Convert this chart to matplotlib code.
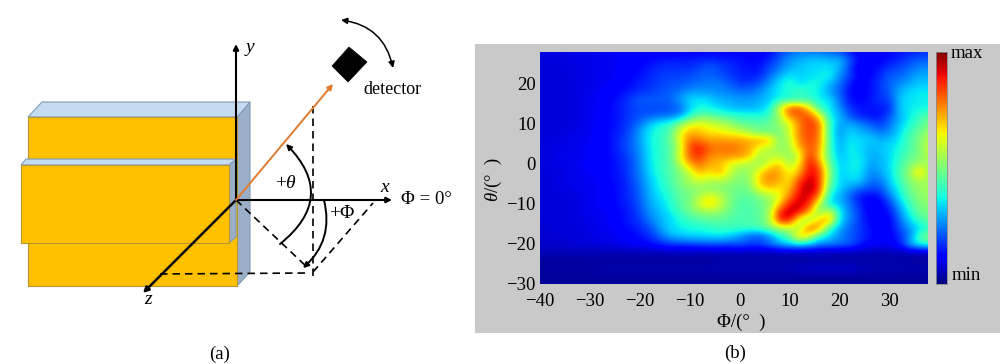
import matplotlib

matplotlib.use("Agg")

import matplotlib.pyplot as plt
import numpy as np
from matplotlib.patches import FancyArrowPatch, Polygon, Rectangle

plt.rcParams["font.family"] = ["Liberation Serif", "DejaVu Serif"]
plt.rcParams["mathtext.fontset"] = "custom"
plt.rcParams["mathtext.rm"] = "Liberation Serif"
plt.rcParams["mathtext.it"] = "Liberation Serif:italic"

phi = list(range(-40, 40, 2))
theta = list(range(28, -32, -2))
x_ticks = [-40, -30, -20, -10, 0, 10, 20, 30]
y_ticks = [-30, -20, -10, 0, 10, 20]

# intensity in percent of the colour bar, top row (theta = 28) first
intensity = [
    [9, 9, 9, 9, 9, 9, 10, 10, 11, 11, 11, 11, 11, 11, 11, 12, 12, 12, 12, 12, 12, 12, 11, 13, 18, 22, 25, 24, 24, 22, 20, 14, 11, 11, 11, 13, 14, 15, 16, 17],
    [8, 8, 8, 9, 9, 9, 10, 10, 11, 12, 12, 13, 14, 15, 15, 15, 16, 17, 16, 15, 14, 13, 13, 16, 22, 28, 30, 32, 33, 30, 32, 22, 12, 12, 12, 14, 16, 20, 22, 22],
    [8, 8, 8, 9, 9, 9, 10, 10, 11, 12, 13, 15, 17, 17, 17, 17, 19, 22, 19, 17, 15, 14, 14, 20, 24, 30, 32, 34, 34, 36, 30, 18, 10, 12, 14, 18, 20, 22, 26, 26],
    [8, 8, 8, 8, 9, 9, 10, 10, 11, 12, 14, 16, 18, 19, 19, 20, 22, 22, 21, 18, 16, 15, 16, 23, 30, 36, 33, 34, 36, 38, 26, 20, 10, 12, 16, 22, 22, 26, 30, 30],
    [8, 8, 8, 8, 9, 9, 10, 11, 12, 13, 16, 17, 19, 20, 21, 22, 24, 25, 25, 22, 18, 18, 22, 28, 36, 40, 34, 38, 38, 30, 24, 14, 11, 14, 18, 22, 26, 30, 32, 32],
    [8, 8, 8, 8, 9, 9, 11, 12, 13, 15, 17, 18, 20, 22, 24, 28, 28, 27, 26, 25, 24, 24, 26, 32, 36, 38, 44, 38, 36, 28, 22, 13, 11, 13, 17, 22, 30, 34, 36, 36],
    [8, 8, 8, 8, 9, 10, 11, 12, 15, 18, 22, 22, 22, 22, 28, 34, 36, 34, 30, 30, 28, 28, 30, 32, 38, 40, 40, 42, 36, 36, 24, 14, 12, 14, 18, 18, 32, 35, 36, 36],
    [8, 8, 8, 8, 9, 10, 11, 13, 15, 18, 20, 19, 19, 20, 22, 32, 38, 36, 34, 31, 30, 30, 32, 36, 62, 84, 84, 66, 40, 36, 26, 18, 14, 14, 14, 16, 32, 36, 36, 38],
    [8, 8, 8, 8, 9, 10, 11, 13, 15, 18, 20, 22, 23, 24, 27, 40, 48, 47, 44, 42, 40, 40, 38, 42, 54, 78, 80, 84, 66, 36, 32, 20, 16, 14, 14, 20, 30, 36, 42, 46],
    [8, 8, 8, 8, 9, 10, 11, 13, 15, 19, 24, 32, 38, 40, 52, 62, 64, 62, 58, 55, 48, 46, 46, 48, 54, 60, 78, 86, 80, 42, 28, 30, 26, 22, 18, 24, 32, 38, 44, 50],
    [8, 8, 8, 9, 9, 10, 12, 13, 16, 20, 28, 36, 40, 44, 62, 72, 70, 66, 65, 62, 60, 54, 48, 48, 48, 62, 78, 84, 80, 40, 26, 34, 30, 28, 24, 26, 34, 42, 48, 54],
    [8, 8, 9, 9, 10, 11, 12, 13, 17, 21, 28, 37, 40, 46, 62, 80, 78, 74, 75, 74, 75, 72, 74, 72, 50, 56, 78, 84, 78, 42, 28, 36, 34, 34, 30, 32, 36, 44, 50, 58],
    [8, 9, 9, 9, 10, 11, 12, 13, 17, 21, 27, 36, 40, 44, 58, 84, 90, 80, 78, 80, 76, 74, 62, 58, 52, 56, 72, 82, 76, 42, 28, 38, 34, 30, 32, 34, 38, 44, 50, 60],
    [8, 9, 9, 10, 10, 11, 11, 13, 16, 20, 26, 36, 40, 44, 62, 82, 86, 76, 76, 76, 76, 70, 56, 56, 58, 50, 62, 88, 70, 44, 30, 36, 36, 30, 30, 34, 40, 46, 50, 58],
    [8, 9, 9, 9, 10, 12, 11, 13, 15, 19, 26, 35, 40, 44, 56, 74, 80, 72, 70, 62, 58, 56, 52, 64, 70, 56, 66, 92, 78, 48, 32, 36, 38, 28, 30, 34, 42, 50, 54, 54],
    [8, 8, 9, 9, 10, 11, 11, 13, 15, 19, 25, 34, 40, 44, 50, 60, 72, 66, 74, 60, 52, 54, 66, 76, 74, 62, 72, 92, 86, 52, 32, 36, 36, 26, 28, 34, 44, 52, 72, 52],
    [8, 8, 9, 9, 10, 10, 11, 13, 14, 18, 24, 32, 38, 44, 50, 56, 62, 58, 58, 54, 50, 52, 70, 78, 72, 66, 84, 95, 86, 50, 32, 34, 34, 24, 24, 32, 42, 52, 56, 54],
    [8, 8, 9, 9, 10, 10, 11, 12, 14, 17, 23, 31, 37, 42, 48, 52, 52, 50, 50, 50, 48, 50, 66, 70, 66, 70, 90, 96, 88, 42, 34, 28, 24, 20, 20, 30, 38, 48, 54, 54],
    [8, 8, 8, 8, 9, 10, 11, 12, 14, 17, 22, 30, 35, 40, 46, 48, 56, 64, 58, 50, 46, 46, 50, 56, 62, 78, 92, 92, 78, 36, 30, 22, 14, 12, 14, 24, 36, 46, 52, 54],
    [8, 8, 8, 8, 9, 10, 11, 12, 14, 16, 21, 29, 33, 38, 46, 50, 62, 70, 60, 50, 44, 44, 48, 52, 68, 90, 94, 88, 56, 34, 32, 24, 16, 11, 11, 18, 30, 42, 50, 52],
    [8, 8, 8, 8, 9, 10, 10, 11, 13, 15, 20, 27, 31, 36, 42, 48, 52, 54, 52, 48, 44, 44, 46, 54, 88, 96, 90, 72, 46, 66, 36, 26, 18, 11, 10, 14, 26, 38, 48, 50],
    [8, 8, 8, 8, 9, 9, 10, 11, 13, 15, 18, 24, 30, 33, 38, 42, 44, 46, 46, 44, 44, 44, 46, 54, 90, 90, 58, 50, 72, 76, 34, 26, 18, 12, 10, 12, 22, 34, 42, 48],
    [7, 8, 8, 8, 8, 9, 10, 10, 12, 14, 16, 20, 28, 34, 36, 38, 38, 40, 42, 42, 42, 42, 44, 50, 56, 58, 54, 84, 76, 40, 30, 22, 18, 14, 11, 11, 20, 28, 34, 40],
    [7, 7, 8, 8, 8, 9, 9, 10, 11, 12, 14, 17, 22, 30, 32, 34, 34, 35, 35, 33, 28, 22, 20, 26, 38, 46, 74, 62, 40, 34, 26, 22, 18, 14, 11, 11, 16, 24, 44, 52],
    [7, 7, 7, 8, 8, 8, 9, 9, 10, 11, 12, 13, 16, 18, 19, 19, 20, 21, 21, 20, 22, 20, 20, 24, 30, 34, 36, 32, 26, 26, 24, 22, 16, 12, 11, 11, 14, 30, 40, 42],
    [5, 5, 5, 5, 5, 5, 5, 5, 5, 5, 5, 5, 5, 5, 5, 5, 5, 5, 5, 5, 5, 5, 5, 5, 5, 5, 5, 5, 5, 5, 5, 5, 5, 5, 5, 5, 5, 5, 5, 5],
    [3, 3, 3, 3, 3, 3, 3, 3, 3, 3, 3, 3, 3, 3, 3, 3, 3, 3, 3, 3, 3, 3, 3, 3, 3, 3, 3, 3, 3, 3, 3, 3, 3, 3, 3, 3, 3, 3, 3, 3],
    [3, 3, 3, 3, 3, 3, 4, 4, 4, 4, 4, 4, 4, 4, 4, 4, 4, 4, 5, 5, 5, 5, 5, 5, 5, 5, 6, 7, 7, 7, 7, 7, 6, 5, 5, 5, 5, 4, 4, 4],
    [3, 3, 3, 3, 3, 3, 3, 3, 3, 3, 3, 3, 3, 3, 3, 3, 3, 3, 3, 3, 3, 3, 3, 3, 3, 3, 3, 3, 3, 3, 3, 3, 3, 3, 3, 3, 3, 3, 3, 3],
    [2, 2, 2, 2, 2, 2, 2, 2, 2, 2, 2, 2, 2, 2, 2, 2, 2, 2, 2, 2, 2, 2, 2, 2, 2, 2, 2, 2, 2, 2, 2, 2, 2, 2, 2, 2, 2, 2, 2, 2],
]

W, H = 1000, 364
fig = plt.figure(figsize=(W / 100, H / 100), dpi=100, facecolor="white")


def axes_px(left, top, right, bottom, **kwargs):
    return fig.add_axes([left / W, 1 - bottom / H, (right - left) / W, (bottom - top) / H], **kwargs)


# page overlay in pixel coordinates, used for schematic (a) and the grey panel
page = axes_px(0, 0, W, H)
page.set_xlim(0, W)
page.set_ylim(H, 0)
page.axis("off")
page.add_patch(Rectangle((475, 44), 525, 289, color="#c9c9c9", lw=0))

YELLOW, EDGE = "#ffc000", "#b8962e"
TOP_FACE, SIDE_FACE, FACE_EDGE = "#c5dcf0", "#9bb0c8", "#7f9bb8"

page.add_patch(Polygon([(237, 117), (250, 102), (250, 272), (237, 286)], fc=SIDE_FACE, ec=FACE_EDGE, lw=0.8))
page.add_patch(Polygon([(28, 117), (42, 102), (250, 102), (237, 117)], fc=TOP_FACE, ec=FACE_EDGE, lw=0.8))
page.add_patch(Rectangle((28, 117), 209, 169, fc=YELLOW, ec=EDGE, lw=0.8))
page.add_patch(Polygon([(229, 165), (236, 159), (236, 237), (229, 243)], fc=SIDE_FACE, ec=FACE_EDGE, lw=0.8))
page.add_patch(Polygon([(21, 165), (26, 159), (236, 159), (229, 165)], fc=TOP_FACE, ec=FACE_EDGE, lw=0.8))
page.add_patch(Rectangle((21, 165), 208, 78, fc=YELLOW, ec=EDGE, lw=0.8))


def arrow(start, end, color="black", lw=1.5, rad=0.0, style="-|>", scale=8):
    page.add_patch(FancyArrowPatch(start, end, arrowstyle=style, mutation_scale=scale, color=color, lw=lw,
                                   shrinkA=0, shrinkB=0, connectionstyle=f"arc3,rad={rad}", zorder=4))


def dashed(start, end):
    page.plot([start[0], end[0]], [start[1], end[1]], color="black", lw=1.2, dashes=(4.5, 3), zorder=3)


dashed((313, 106), (313, 276))
dashed((236, 200), (308, 268))
dashed((313, 272), (373, 203))
dashed((160, 274), (308, 273))

arrow((236, 200), (236, 44))
arrow((236, 200), (392, 200))
arrow((236, 200), (143, 293), lw=1.8)
arrow((236, 200), (333, 84), color="#e07b30", lw=1.4)
arrow((280, 244), (286, 144), rad=0.55, lw=1.4)
arrow((324, 200), (303, 268), rad=-0.3, lw=1.4)
arrow((393, 68), (341, 20), rad=0.35, lw=1.1, style="<|-|>", scale=9)

page.add_patch(Polygon([(349, 47), (367, 62), (348, 82), (332, 66)], fc="black", ec="black", lw=0.5))

page.text(250, 48, "y", style="italic", fontsize=14, ha="center", va="center")
page.text(385, 187, "x", style="italic", fontsize=14, ha="center", va="center")
page.text(148, 300, "z", style="italic", fontsize=14, ha="center", va="center")
page.text(286, 184, r"+$\theta$", fontsize=14, ha="center", va="center")
page.text(342, 213, "+Φ", fontsize=14, ha="center", va="center")
page.text(426, 200, "Φ = 0°", fontsize=13.5, ha="center", va="center")
page.text(392, 89, "detector", fontsize=13, ha="center", va="center")
page.text(220, 354, "(a)", fontsize=13.5, ha="center", va="center")
page.text(735, 353, "(b)", fontsize=13.5, ha="center", va="center")

# heat map (b)
ax = axes_px(540, 52, 928, 284)
ax.imshow(np.array(intensity) / 100, cmap="jet", vmin=0, vmax=1, aspect="auto", interpolation="bicubic",
          extent=(phi[0] - 1, phi[-1] + 1, theta[-1] - 1, theta[0] + 1))
ax.set_xlim(-40, 37.7)
ax.set_ylim(-30, 28)
ax.set_xticks(x_ticks, [f"{v}".replace("-", "\u2212") for v in x_ticks])
ax.set_yticks(y_ticks, [f"{v}".replace("-", "\u2212") for v in y_ticks])
ax.tick_params(length=0, labelsize=13.5)
ax.tick_params(axis="x", pad=6.5)
ax.tick_params(axis="y", pad=3)
for spine in ax.spines.values():
    spine.set_visible(False)
page.text(741, 322, "Φ/(°  )", fontsize=13.5, ha="center", va="center")
page.text(493, 180, r"$\theta$/(°  )", fontsize=13.5, rotation=90, ha="center", va="center")

# colour bar
cbar = axes_px(936, 52, 947, 284)
cbar.imshow(np.linspace(1, 0, 256)[:, None], cmap="jet", aspect="auto")
cbar.set_xticks([])
cbar.set_yticks([])
for spine in cbar.spines.values():
    spine.set_color("#8a8a8a")
    spine.set_linewidth(0.6)
page.text(967, 53, "max", fontsize=13.5, ha="center", va="center")
page.text(966, 275, "min", fontsize=13.5, ha="center", va="center")

fig.savefig("out.png", dpi=100)
